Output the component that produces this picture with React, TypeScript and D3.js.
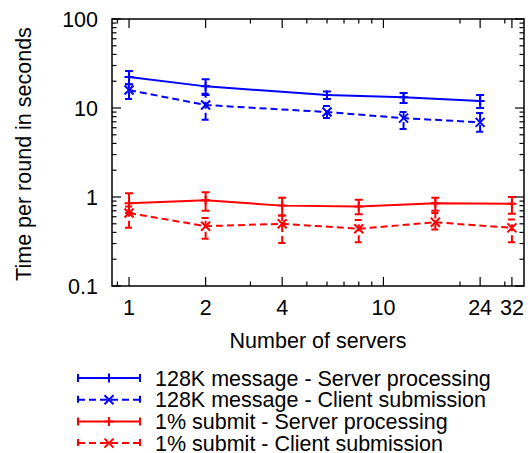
import React from "react";
import * as d3 from "d3";

const SERVERS_128K = [1, 2, 6, 12, 24];
const K128_SERVER = [22.3, 17.5, 14.0, 13.2, 12.0];
const K128_SERVER_LO = [18.5, 14.0, 12.6, 11.4, 10.0];
const K128_SERVER_HI = [26, 21, 15.3, 14.7, 14.0];
const K128_CLIENT = [15.9, 10.8, 9.0, 7.7, 6.9];
const K128_CLIENT_LO = [12.6, 7.4, 7.7, 5.8, 5.4];
const K128_CLIENT_HI = [18.5, 14.5, 10.5, 9.0, 8.8];

const SERVERS_1P = [1, 2, 4, 8, 16, 32];
const P1_SERVER = [0.85, 0.92, 0.8, 0.78, 0.85, 0.84];
const P1_SERVER_LO = [0.66, 0.7, 0.62, 0.64, 0.7, 0.65];
const P1_SERVER_HI = [1.1, 1.13, 0.98, 0.93, 0.98, 1.0];
const P1_CLIENT = [0.66, 0.47, 0.5, 0.44, 0.52, 0.45];
const P1_CLIENT_LO = [0.45, 0.34, 0.305, 0.31, 0.43, 0.31];
const P1_CLIENT_HI = [0.78, 0.58, 0.62, 0.55, 0.66, 0.56];

const X_MAJOR = [1, 2, 4, 10, 24, 32];
const X_MINOR = [0.9, 3, 5, 6, 7, 8, 9, 20, 30];
const Y_MAJOR = [0.1, 1, 10, 100];
const Y_MAJOR_LABELS = ["0.1", "1", "10", "100"];
const Y_MINOR = [0.1, 1, 10].flatMap((d) => [2, 3, 4, 5, 6, 7, 8, 9].map((m) => d * m));

const SERIES_NAMES = [
  "128K message - Server processing",
  "128K message - Client submission",
  "1% submit - Server processing",
  "1% submit - Client submission",
];

const FONT = "'Liberation Sans', Arial, Helvetica, sans-serif";
const BLUE = "#0000ff";
const RED = "#ff0000";
const DASH = "7,4";

const L = 112, R = 524, T = 19, B = 286;
const x = d3.scaleLog().domain([0.857, 35.7]).range([L, R]);
const y = d3.scaleLog().domain([0.1, 100]).range([B, T]);

type S = { xs: number[]; v: number[]; lo: number[]; hi: number[]; color: string; dashed: boolean; marker: "plus" | "x" };

const series: S[] = [
  { xs: SERVERS_128K, v: K128_SERVER, lo: K128_SERVER_LO, hi: K128_SERVER_HI, color: BLUE, dashed: false, marker: "plus" },
  { xs: SERVERS_128K, v: K128_CLIENT, lo: K128_CLIENT_LO, hi: K128_CLIENT_HI, color: BLUE, dashed: true, marker: "x" },
  { xs: SERVERS_1P, v: P1_SERVER, lo: P1_SERVER_LO, hi: P1_SERVER_HI, color: RED, dashed: false, marker: "plus" },
  { xs: SERVERS_1P, v: P1_CLIENT, lo: P1_CLIENT_LO, hi: P1_CLIENT_HI, color: RED, dashed: true, marker: "x" },
];

function Marker({ cx, cy, kind, color }: { cx: number; cy: number; kind: string; color: string }) {
  const s = 4.5;
  const d =
    kind === "plus"
      ? `M${cx - s},${cy}L${cx + s},${cy}M${cx},${cy - s}L${cx},${cy + s}`
      : `M${cx - s},${cy - s}L${cx + s},${cy + s}M${cx - s},${cy + s}L${cx + s},${cy - s}`;
  return <path d={d} stroke={color} strokeWidth={2} fill="none" />;
}

export default function App() {
  const line = d3
    .line<[number, number]>()
    .x((d) => x(d[0]))
    .y((d) => y(d[1]));
  const cap = 4;
  return (
    <svg width={528} height={453} style={{ position: "absolute", left: 0, top: 0, background: "#fff" }} fontFamily={FONT}>
      <rect x={0} y={0} width={528} height={453} fill="#fff" />
      {/* series */}
      {series.map((s, si) => (
        <g key={si}>
          {s.xs.map((xv, i) => {
            const cx = x(xv);
            return (
              <path
                key={i}
                d={`M${cx},${y(s.lo[i])}L${cx},${y(s.hi[i])}M${cx - cap},${y(s.lo[i])}L${cx + cap},${y(s.lo[i])}M${cx - cap},${y(s.hi[i])}L${cx + cap},${y(s.hi[i])}`}
                stroke={s.color}
                strokeWidth={2}
                strokeDasharray={s.dashed ? DASH : undefined}
                fill="none"
              />
            );
          })}
          <path
            d={line(s.xs.map((xv, i) => [xv, s.v[i]] as [number, number])) || ""}
            stroke={s.color}
            strokeWidth={2}
            strokeDasharray={s.dashed ? DASH : undefined}
            fill="none"
          />
          {s.xs.map((xv, i) => (
            <Marker key={i} cx={x(xv)} cy={y(s.v[i])} kind={s.marker} color={s.color} />
          ))}
        </g>
      ))}
      {/* frame */}
      <rect x={L} y={T} width={R - L} height={B - T} fill="none" stroke="#000" strokeWidth={1.5} />
      {/* x ticks */}
      {X_MAJOR.map((v) => (
        <g key={"xm" + v}>
          <line x1={x(v)} x2={x(v)} y1={B} y2={B - 9} stroke="#000" strokeWidth={1.2} />
          <line x1={x(v)} x2={x(v)} y1={T} y2={T + 9} stroke="#000" strokeWidth={1.2} />
          <text x={x(v)} y={315} textAnchor="middle" fontSize={21.5} fill="#000">
            {v}
          </text>
        </g>
      ))}
      {X_MINOR.map((v) => (
        <g key={"xn" + v}>
          <line x1={x(v)} x2={x(v)} y1={B} y2={B - 4.5} stroke="#000" strokeWidth={1.2} />
          <line x1={x(v)} x2={x(v)} y1={T} y2={T + 4.5} stroke="#000" strokeWidth={1.2} />
        </g>
      ))}
      {/* y ticks */}
      {Y_MAJOR.map((v, i) => (
        <g key={"ym" + v}>
          <line x1={L} x2={L + 9} y1={y(v)} y2={y(v)} stroke="#000" strokeWidth={1.2} />
          <line x1={R} x2={R - 9} y1={y(v)} y2={y(v)} stroke="#000" strokeWidth={1.2} />
          <text x={98} y={y(v) + 7.7} textAnchor="end" fontSize={21.5} fill="#000">
            {Y_MAJOR_LABELS[i]}
          </text>
        </g>
      ))}
      {Y_MINOR.map((v) => (
        <g key={"yn" + v}>
          <line x1={L} x2={L + 4.5} y1={y(v)} y2={y(v)} stroke="#000" strokeWidth={1.2} />
          <line x1={R} x2={R - 4.5} y1={y(v)} y2={y(v)} stroke="#000" strokeWidth={1.2} />
        </g>
      ))}
      {/* axis titles */}
      <text x={318} y={348} textAnchor="middle" fontSize={21.5} fill="#000">
        Number of servers
      </text>
      <text transform="translate(31,154) rotate(-90)" textAnchor="middle" fontSize={21.5} fill="#000">
        Time per round in seconds
      </text>
      {/* legend */}
      {series.map((s, i) => {
        const ly = 378 + i * 21.7;
        const x0 = 78, x1 = 140, xm = 109;
        return (
          <g key={"lg" + i}>
            <path
              d={`M${x0},${ly}L${x1},${ly}M${x0},${ly - cap}L${x0},${ly + cap}M${x1},${ly - cap}L${x1},${ly + cap}`}
              stroke={s.color}
              strokeWidth={2}
              strokeDasharray={s.dashed ? DASH : undefined}
              fill="none"
            />
            <Marker cx={xm} cy={ly} kind={s.marker} color={s.color} />
            <text x={155} y={ly + 7.7} fontSize={21.5} fill="#000">
              {SERIES_NAMES[i]}
            </text>
          </g>
        );
      })}
    </svg>
  );
}
